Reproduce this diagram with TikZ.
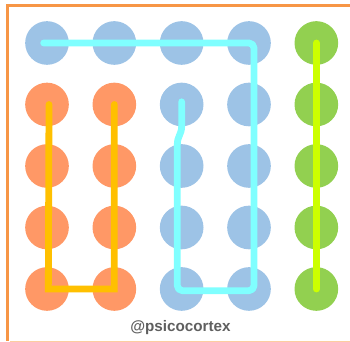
\documentclass[tikz,border=0pt]{standalone}
\usepackage{fontspec}
\setmainfont{Liberation Sans}
\usepackage{tikz}
\usetikzlibrary{positioning}
\usepackage{color}
\definecolor{dotblue}{RGB}{157,195,230}
\definecolor{dotorange}{RGB}{255,152,102}
\definecolor{dotgreen}{RGB}{146,208,80}
\definecolor{linecyan}{RGB}{128,255,255}
\definecolor{lineyellow}{RGB}{255,192,0}
\definecolor{linelime}{RGB}{204,255,0}
\definecolor{frameorange}{RGB}{247,150,70}
\definecolor{framelight}{RGB}{252,205,160}
\definecolor{creditgray}{RGB}{95,95,95}
\tikzset{
	dot/.style={circle, minimum size=1.31cm, inner sep=0pt},
	trail/.style={line width=5.8pt, line cap=round, line join=round}
}

\begin{document}
\begin{tikzpicture}
\useasboundingbox (0,0) rectangle (10.5,10.26);
\draw[frameorange, line width=2.6pt] (10.5,10.095) -- (0.225,10.095) -- (0.225,0.03);
\draw[framelight, line width=0.8pt] (0.3,0.03) -- (10.5,0.03);

% row 1
\node[dot, fill=dotblue] (A1) at (1.41,8.97) {};
\node[dot, fill=dotblue] (B1) at (3.43,8.97) {};
\node[dot, fill=dotblue] (C1) at (5.45,8.97) {};
\node[dot, fill=dotblue] (D1) at (7.47,8.97) {};
\node[dot, fill=dotgreen] (E1) at (9.49,8.97) {};
% row 2
\node[dot, fill=dotorange] (A2) at (1.41,7.125) {};
\node[dot, fill=dotorange] (B2) at (3.43,7.125) {};
\node[dot, fill=dotblue] (C2) at (5.45,7.125) {};
\node[dot, fill=dotblue] (D2) at (7.47,7.125) {};
\node[dot, fill=dotgreen] (E2) at (9.49,7.125) {};
% row 3
\node[dot, fill=dotorange] (A3) at (1.41,5.28) {};
\node[dot, fill=dotorange] (B3) at (3.43,5.28) {};
\node[dot, fill=dotblue] (C3) at (5.45,5.28) {};
\node[dot, fill=dotblue] (D3) at (7.47,5.28) {};
\node[dot, fill=dotgreen] (E3) at (9.49,5.28) {};
% row 4
\node[dot, fill=dotorange] (A4) at (1.41,3.435) {};
\node[dot, fill=dotorange] (B4) at (3.43,3.435) {};
\node[dot, fill=dotblue] (C4) at (5.45,3.435) {};
\node[dot, fill=dotblue] (D4) at (7.47,3.435) {};
\node[dot, fill=dotgreen] (E4) at (9.49,3.435) {};
% row 5
\node[dot, fill=dotorange] (A5) at (1.41,1.59) {};
\node[dot, fill=dotorange] (B5) at (3.43,1.59) {};
\node[dot, fill=dotblue] (C5) at (5.45,1.59) {};
\node[dot, fill=dotblue] (D5) at (7.47,1.59) {};
\node[dot, fill=dotgreen] (E5) at (9.49,1.59) {};

\draw[trail, linecyan, rounded corners=1.5mm] ([xshift=-1mm]A1.center) -- ([xshift=1.5mm]D1.center)
  -- ([xshift=1.5mm,yshift=-0.5mm]D5.center) -- ([xshift=-1.3mm,yshift=-0.5mm]C5.center)
  -- ([xshift=-1.3mm,yshift=5mm]C3.center) .. controls ([xshift=-1.3mm,yshift=9mm]C3.center)
  and ([yshift=-9mm]C2.center) .. ([yshift=-5mm]C2.center) -- ([yshift=0.8mm]C2.center);
\draw[trail, lineyellow, line join=miter] ([xshift=0.6mm]A2.center) -- ([xshift=0.4mm]A5.center) -- (B5.center) -- (B2.center);
\draw[trail, linelime] (E1.center) -- (E5.center);

\node[font=\bfseries\fontsize{13}{15}\selectfont, text=creditgray] (credit) at (5.415,0.42) {@psicocortex};
\end{tikzpicture}
\end{document}
